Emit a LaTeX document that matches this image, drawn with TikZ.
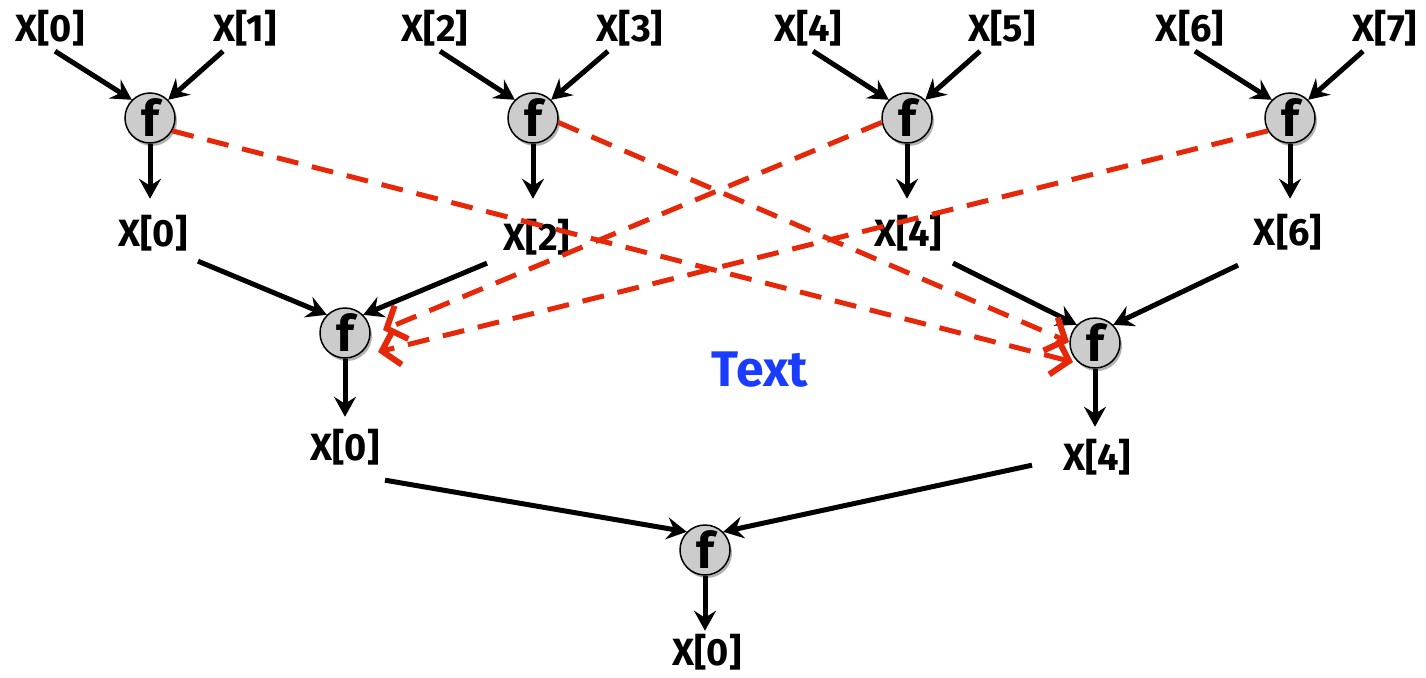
\documentclass[tikz,border=0pt]{standalone}
\usepackage{fontspec}
\setmainfont{Fira Sans}
\usetikzlibrary{arrows.meta,shadows}
\definecolor{fgray}{RGB}{204,204,204}
\definecolor{dred}{RGB}{230,40,10}
\definecolor{tblue}{RGB}{25,60,255}
\begin{document}
\begin{tikzpicture}[x=1pt,y=-1pt,
  lbl/.style={font=\fontsize{38}{38}\selectfont\bfseries, inner sep=0pt},
  fn/.style={circle, draw=black, line width=1.5pt, fill=fgray, minimum size=50pt, inner sep=0pt,
     drop shadow={shadow xshift=2pt, shadow yshift=-3pt, opacity=0.3, fill=black},
     label={[font=\fontsize{50}{50}\selectfont\bfseries, inner sep=0pt]center:f}},
  arr/.style={line width=5pt, -{Stealth[length=20pt,width=22pt,inset=7pt]}},
  red/.style={draw=dred, line width=5pt, dash pattern=on 22pt off 14pt,
     -{Straight Barb[length=16pt,width=36pt,line width=6pt]}}
]
\useasboundingbox (0,0) rectangle (1426,677);
% top labels
\node[lbl] (a0) at (50,28) {X[0]};
\node[lbl] (a1) at (245,28) {X[1]};
\node[lbl] (a2) at (435,28) {X[2]};
\node[lbl] (a3) at (630,28) {X[3]};
\node[lbl] (a4) at (808,28) {X[4]};
\node[lbl] (a5) at (1002,28) {X[5]};
\node[lbl] (a6) at (1190,28) {X[6]};
\node[lbl] (a7) at (1385,28) {X[7]};
% top f
\node[fn] (f1) at (150,118) {};
\node[fn] (f2) at (533,118) {};
\node[fn] (f3) at (907,118) {};
\node[fn] (f4) at (1290,118) {};
% mid labels
\node[lbl] (b0) at (153,233) {X[0]};
\node[lbl] (b2) at (537,237) {X[2]};
\node[lbl] (b4) at (908,233) {X[4]};
\node[lbl] (b6) at (1288,232) {X[6]};
% level 2 f
\node[fn] (g1) at (345,333) {};
\node[fn] (g2) at (1095,343) {};
\node[lbl] (c0) at (345,447) {X[0]};
\node[lbl] (c4) at (1097,457) {X[4]};
\node[fn] (h) at (705,550) {};
\node[lbl] (d0) at (707,652) {X[0]};
\node[font=\fontsize{50}{50}\selectfont\bfseries, text=tblue, inner sep=0pt] (t) at (760,370) {Text};
% arrows top
\draw[arr] (a0.south) ++(5,5) -- (f1.north west);
\draw[arr] (a1.south) ++(-22,5) -- (f1.north east);
\draw[arr] (a2.south) ++(5,5) -- (f2.north west);
\draw[arr] (a3.south) ++(-22,5) -- (f2.north east);
\draw[arr] (a4.south) ++(5,5) -- (f3.north west);
\draw[arr] (a5.south) ++(-22,5) -- (f3.north east);
\draw[arr] (a6.south) ++(5,5) -- (f4.north west);
\draw[arr] (a7.south) ++(-22,5) -- (f4.north east);
% down
\draw[arr] (f1.south) -- ++(0,55);
\draw[arr] (f2.south) -- ++(0,55);
\draw[arr] (f3.south) -- ++(0,55);
\draw[arr] (f4.south) -- ++(0,55);
% mid to level2
\draw[arr] (b0.south) ++(45,10) -- (g1.north west);
\draw[arr] (b2.south) ++(-50,8) -- (g1.north east);
\draw[arr] (b4.south) ++(45,12) -- (g2.north west);
\draw[arr] (b6.south) ++(-50,15) -- (g2.north east);
\draw[arr] (g1.south) -- ++(0,58);
\draw[arr] (g2.south) -- ++(0,58);
\draw[arr] (c0.south) ++(40,15) -- (h.north west);
\draw[arr] (c4.south) ++(-65,-10) -- (h.north east);
\draw[arr] (h.south) -- ++(0,55);
% red dashed
\draw[red] (f1.-30) -- ([shift={(-22,19)}]g2.center);
\draw[red] (f2.-10) -- ([shift={(-26,-1)}]g2.center);
\draw[red] (f3.-170) -- ([shift={(38,-3)}]g1.center);
\draw[red] (f4.-150) -- ([shift={(33,19)}]g1.center);
\end{tikzpicture}
\end{document}
